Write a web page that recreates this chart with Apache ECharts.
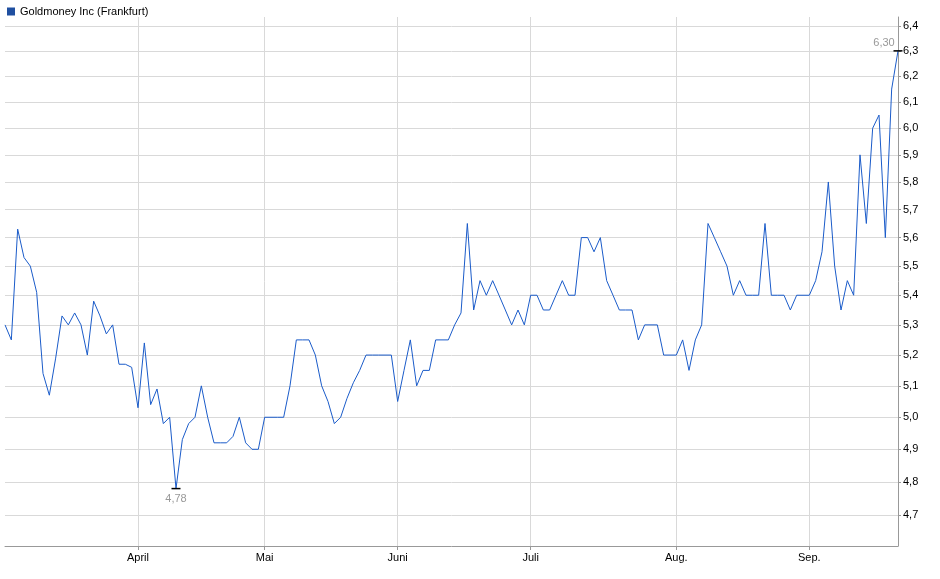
<!DOCTYPE html>
<html><head><meta charset="utf-8">
<script src="https://cdn.jsdelivr.net/npm/echarts@6/dist/echarts.min.js"></script>
<style>html,body{margin:0;padding:0;background:#fff}#c{width:940px;height:579px}</style>
</head><body><div id="c"></div>
<script>
const seriesName = 'Goldmoney Inc (Frankfurt)';
const prices = [
5.30,5.25,5.63,5.53,5.50,5.41,5.14,5.07,5.19,5.33,5.30,5.34,5.30,5.20,5.38,5.33,5.27,5.30,5.17,5.17,
5.16,5.03,5.24,5.04,5.09,4.98,5.00,4.78,4.93,4.98,5.00,5.10,5.00,4.92,4.92,4.92,4.94,5.00,4.92,4.90,
4.90,5.00,5.00,5.00,5.00,5.10,
5.25,5.25,5.25,5.20,5.10,5.05,4.98,5.00,5.06,5.11,5.15,5.20,5.20,5.20,5.20,5.20,5.05,5.15,5.25,5.10,
5.15,5.15,5.25,5.25,5.25,5.30,5.34,5.65,5.35,5.45,5.40,5.45,5.40,5.35,5.30,5.35,5.30,5.40,5.40,5.35,
5.35,5.40,5.45,5.40,5.40,5.60,5.60,5.55,5.60,
5.45,5.40,5.35,5.35,5.35,5.25,5.30,5.30,5.30,5.20,5.20,5.20,5.25,5.15,5.25,5.30,5.65,5.60,5.55,5.50,
5.40,5.45,5.40,5.40,5.40,5.65,5.40,5.40,5.40,5.35,5.40,5.40,5.40,5.45,5.55,5.80,5.50,5.35,5.45,5.40,
5.90,5.65,6.00,6.05,5.60,6.15,6.30];
const monthLabels = ['April','Mai','Juni','Juli','Aug.','Sep.'];
const monthIndex = [21,41,62,83,106,127];
const yTicks = [4.7,4.8,4.9,5.0,5.1,5.2,5.3,5.4,5.5,5.6,5.7,5.8,5.9,6.0,6.1,6.2,6.3,6.4];

const cats = prices.map((_, i) => { const k = monthIndex.indexOf(i); return k >= 0 ? monthLabels[k] : String(i); });
const isMonth = i => monthIndex.indexOf(i) >= 0;
const fmt = v => v.toFixed(2).replace('.', ',');
let minI = 0, maxI = 0;
prices.forEach((v, i) => { if (v < prices[minI]) minI = i; if (v > prices[maxI]) maxI = i; });

const chart = echarts.init(document.getElementById('c'));
chart.setOption({
  animation: false,
  textStyle: {fontFamily: 'Liberation Sans, Arial, sans-serif'},
  legend: {left: 2, top: 1, itemWidth: 8, itemHeight: 8, itemGap: 4, icon: 'rect',
    textStyle: {fontSize: 11, color: '#000'}, data: [seriesName]},
  grid: {left: 5, right: 42, top: 17, bottom: 33},
  xAxis: {type: 'category', data: cats, boundaryGap: false,
    axisLine: {lineStyle: {color: '#999'}},
    axisTick: {interval: i => isMonth(i), length: 4, lineStyle: {color: '#999'}},
    axisLabel: {interval: i => isMonth(i), color: '#000', fontSize: 11, margin: 6},
    splitLine: {show: true, interval: i => isMonth(i), lineStyle: {color: '#d9d9d9'}}},
  yAxis: {type: 'log', position: 'right', min: 4.61, max: 6.436,
    axisLine: {show: true, lineStyle: {color: '#999'}},
    axisTick: {show: true, customValues: yTicks, length: 3, lineStyle: {color: '#999'}},
    axisLabel: {customValues: yTicks, color: '#000', fontSize: 11, margin: 5,
      formatter: v => v.toFixed(1).replace('.', ',')},
    splitLine: {show: true, lineStyle: {color: '#d9d9d9'}}},
  series: [{name: seriesName, type: 'line', data: prices, showSymbol: false,
    color: '#1f4fa0', lineStyle: {width: 1, color: '#1a5bc9'},
    markPoint: {symbol: 'rect', symbolSize: [9, 1.5], itemStyle: {color: '#000'},
      label: {color: '#999', fontSize: 11, formatter: p => fmt(p.value)},
      data: [
        {coord: [minI, prices[minI]], value: prices[minI], label: {position: 'bottom', distance: 4}},
        {coord: [maxI, prices[maxI]], value: prices[maxI], label: {position: 'top', offset: [-14, 0], distance: 2}}
      ]}}]
});
</script></body></html>
